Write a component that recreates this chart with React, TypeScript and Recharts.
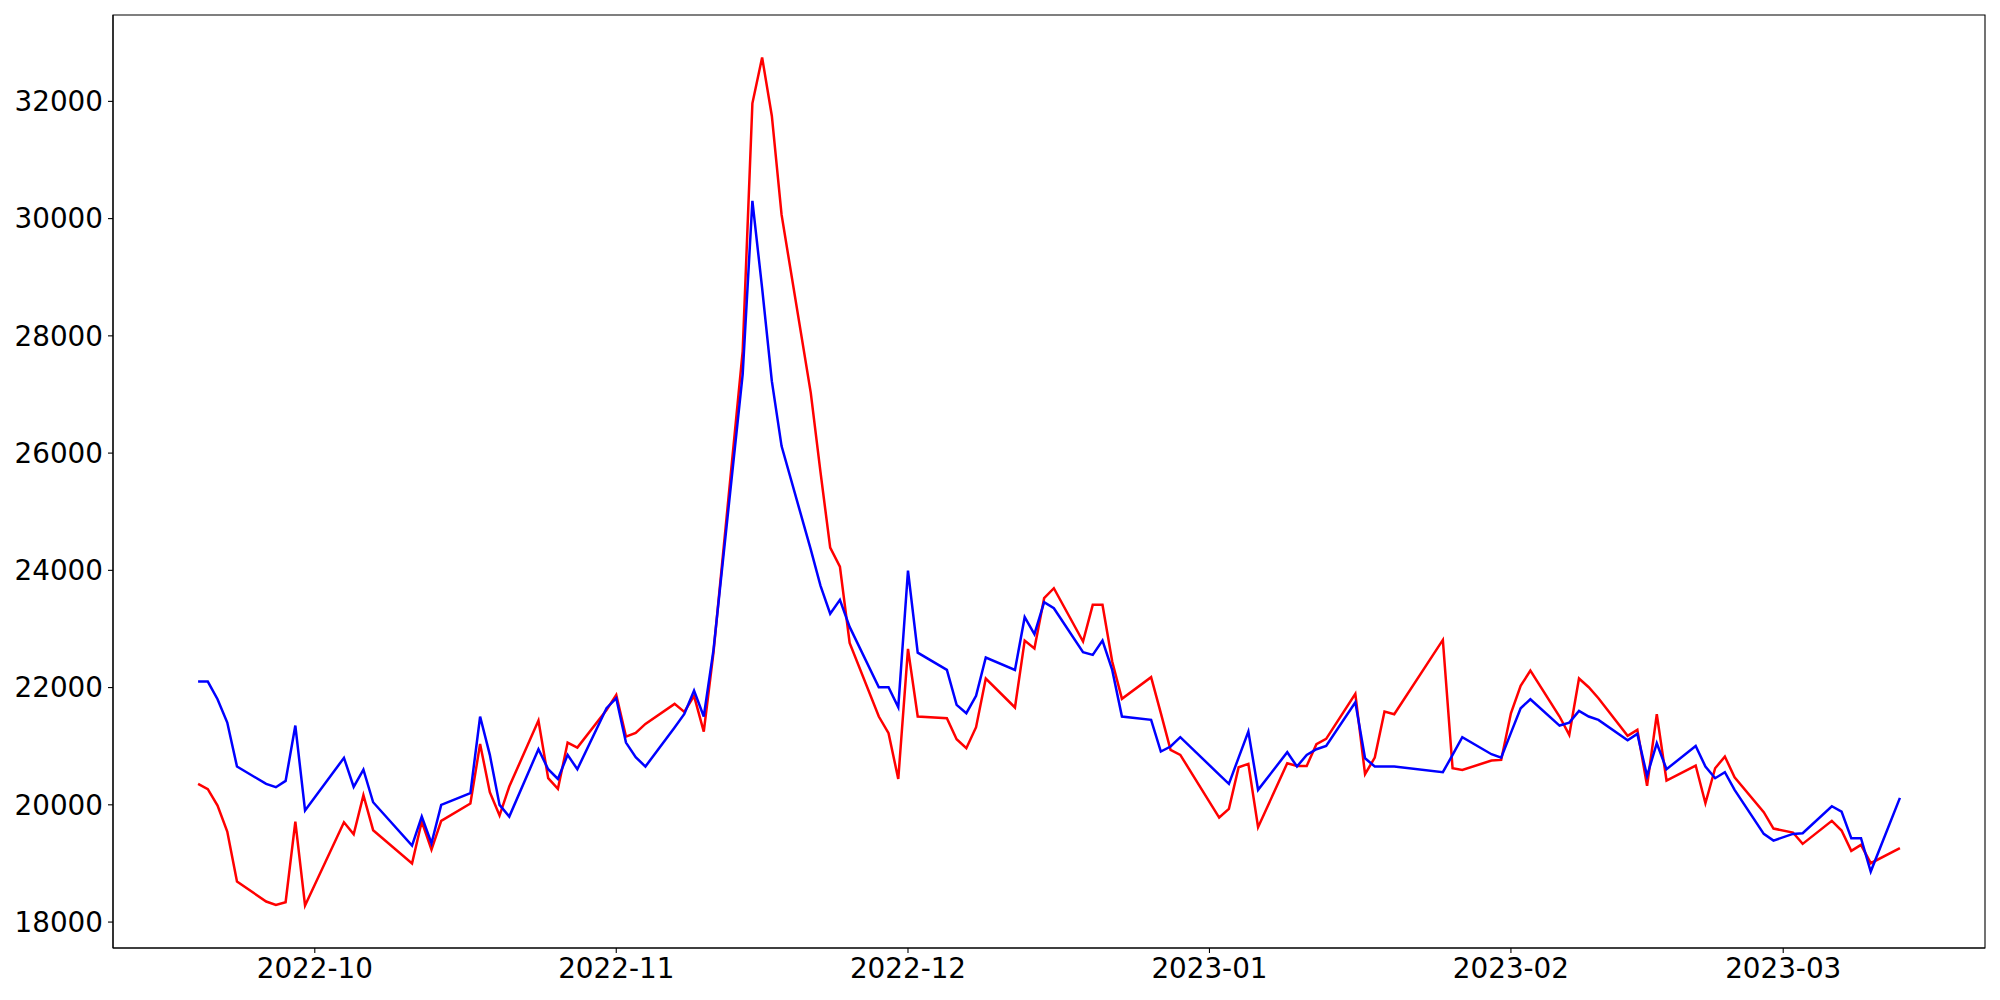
import React from 'react';
import { LineChart, Line, XAxis, YAxis, ReferenceArea } from 'recharts';

// trading days (weekends and KRX holidays are missing)
const dates = [
  '2022-09-19', '2022-09-20', '2022-09-21', '2022-09-22', '2022-09-23', '2022-09-26', '2022-09-27', '2022-09-28', '2022-09-29', '2022-09-30',
  '2022-10-04', '2022-10-05', '2022-10-06', '2022-10-07', '2022-10-11', '2022-10-12', '2022-10-13', '2022-10-14', '2022-10-17', '2022-10-18',
  '2022-10-19', '2022-10-20', '2022-10-21', '2022-10-24', '2022-10-25', '2022-10-26', '2022-10-27', '2022-10-28', '2022-10-31',
  '2022-11-01', '2022-11-02', '2022-11-03', '2022-11-04', '2022-11-07', '2022-11-08', '2022-11-09', '2022-11-10', '2022-11-11', '2022-11-14',
  '2022-11-15', '2022-11-16', '2022-11-17', '2022-11-18', '2022-11-21', '2022-11-22', '2022-11-23', '2022-11-24', '2022-11-25', '2022-11-28',
  '2022-11-29', '2022-11-30',
  '2022-12-01', '2022-12-02', '2022-12-05', '2022-12-06', '2022-12-07', '2022-12-08', '2022-12-09', '2022-12-12', '2022-12-13', '2022-12-14',
  '2022-12-15', '2022-12-16', '2022-12-19', '2022-12-20', '2022-12-21', '2022-12-22', '2022-12-23', '2022-12-26', '2022-12-27', '2022-12-28',
  '2022-12-29',
  '2023-01-02', '2023-01-03', '2023-01-04', '2023-01-05', '2023-01-06', '2023-01-09', '2023-01-10', '2023-01-11', '2023-01-12', '2023-01-13',
  '2023-01-16', '2023-01-17', '2023-01-18', '2023-01-19', '2023-01-20', '2023-01-25', '2023-01-26', '2023-01-27', '2023-01-30', '2023-01-31',
  '2023-02-01', '2023-02-02', '2023-02-03', '2023-02-06', '2023-02-07', '2023-02-08', '2023-02-09', '2023-02-10', '2023-02-13', '2023-02-14',
  '2023-02-15', '2023-02-16', '2023-02-17', '2023-02-20', '2023-02-21', '2023-02-22', '2023-02-23', '2023-02-24', '2023-02-27', '2023-02-28',
  '2023-03-02', '2023-03-03', '2023-03-06', '2023-03-07', '2023-03-08', '2023-03-09', '2023-03-10', '2023-03-13',
];

const redSeries = [
  20357, 20266, 19987, 19544, 18691, 18350, 18293, 18339, 19714, 18281,
  19703, 19498, 20164, 19567, 18998, 19714, 19237, 19726, 20022, 21039,
  20215, 19817, 20312, 21437, 20454, 20272, 21062, 20977, 21619,
  21875, 21164, 21227, 21381, 21722, 21585, 21858, 21250, 22600, 27736,
  31967, 32750, 31751, 30067, 27031, 25679, 24387, 24064, 22761, 21506,
  21222, 20440,
  22660, 21506, 21478, 21120, 20966, 21324, 22154, 21660, 22803, 22666,
  23525, 23695, 22786, 23411, 23411, 22444, 21808, 22177, 21563, 20938,
  20852,
  19783, 19931, 20641, 20698, 19618, 20710, 20664, 20664, 21034, 21125,
  21892, 20522, 20806, 21591, 21545, 22813, 20624, 20596, 20755, 20766,
  21562, 22029, 22290, 21506, 21193, 22154, 22006, 21818, 21176, 21278,
  20323, 21545, 20414, 20670, 20027, 20624, 20823, 20471, 19874, 19595,
  19527, 19334, 19726, 19561, 19214, 19317, 19004, 19260,
];

const blueSeries = [
  22103, 22103, 21801, 21403, 20653, 20357, 20300, 20408, 21352, 19902,
  20801, 20306, 20601, 20044, 19305, 19800, 19345, 19999, 20198, 21506,
  20852, 19999, 19800, 20948, 20607, 20442, 20852, 20607, 21648,
  21818, 21062, 20812, 20653, 21320, 21551, 21949, 21506, 22644, 27344,
  30302, 28813, 27227, 26120, 24357, 23740, 23260, 23496, 23035, 22007,
  22007, 21664,
  23995, 22595, 22302, 21705, 21563, 21859, 22513, 22302, 23201, 22911,
  23457, 23354, 22604, 22558, 22803, 22302, 21506, 21449, 20909, 20995,
  21154,
  20516, 20357, 20806, 21250, 20255, 20897, 20653, 20852, 20948, 21005,
  21750, 20795, 20653, 20653, 20653, 20556, 20852, 21153, 20863, 20806,
  21227, 21648, 21801, 21352, 21403, 21602, 21506, 21449, 21102, 21210,
  20493, 21051, 20607, 21005, 20653, 20454, 20556, 20255, 19504, 19390,
  19504, 19515, 19976, 19885, 19430, 19430, 18862, 20118,
];

const monthTicks = ['2022-10-01', '2022-11-01', '2022-12-01', '2023-01-01', '2023-02-01', '2023-03-01'];
const yTicks = [18000, 20000, 22000, 24000, 26000, 28000, 30000, 32000];

const toMs = (d: string) => Date.parse(d);

const data = dates.map((d, i) => ({ t: toMs(d), red: redSeries[i], blue: blueSeries[i] }));

// matplotlib-like 5% margins around the data
const tMin = toMs(dates[0]);
const tMax = toMs(dates[dates.length - 1]);
const tPad = (tMax - tMin) * 0.05;
const vMin = Math.min(...redSeries, ...blueSeries);
const vMax = Math.max(...redSeries, ...blueSeries);
const vPad = (vMax - vMin) * 0.05;
const xDomain = [tMin - tPad, tMax + tPad];
const yDomain = [vMin - vPad, vMax + vPad];

const fmtMonth = (v: number) => {
  const d = new Date(v);
  return `${d.getUTCFullYear()}-${String(d.getUTCMonth() + 1).padStart(2, '0')}`;
};

const tickStyle = { fill: '#000', fontSize: 27.8, fontFamily: 'DejaVu Sans' };

export default function App() {
  return (
    <div style={{ position: 'absolute', left: 0, top: 0, background: '#fff' }}>
      <LineChart width={2000} height={1000} data={data} margin={{ top: 15, right: 15, bottom: 0, left: 0 }}>
        <XAxis
          dataKey="t"
          type="number"
          domain={xDomain}
          ticks={monthTicks.map(toMs)}
          tickFormatter={fmtMonth}
          allowDataOverflow
          height={52}
          tick={tickStyle}
          tickSize={5}
          tickMargin={5}
          axisLine={{ stroke: '#000', strokeWidth: 1.1 }}
          tickLine={{ stroke: '#000', strokeWidth: 1.1 }}
        />
        <YAxis
          type="number"
          domain={yDomain}
          ticks={yTicks}
          allowDataOverflow
          width={113}
          tick={tickStyle}
          tickSize={5}
          tickMargin={5}
          axisLine={{ stroke: '#000', strokeWidth: 1.1 }}
          tickLine={{ stroke: '#000', strokeWidth: 1.1 }}
        />
        {/* axes frame */}
        <ReferenceArea
          x1={xDomain[0]}
          x2={xDomain[1]}
          y1={yDomain[0]}
          y2={yDomain[1]}
          fill="none"
          fillOpacity={0}
          stroke="#000"
          strokeWidth={1.1}
          strokeOpacity={1}
          ifOverflow="visible"
        />
        <Line dataKey="red" stroke="#ff0000" strokeWidth={2.5} dot={false} isAnimationActive={false} />
        <Line dataKey="blue" stroke="#0000ff" strokeWidth={2.5} dot={false} isAnimationActive={false} />
      </LineChart>
    </div>
  );
}
